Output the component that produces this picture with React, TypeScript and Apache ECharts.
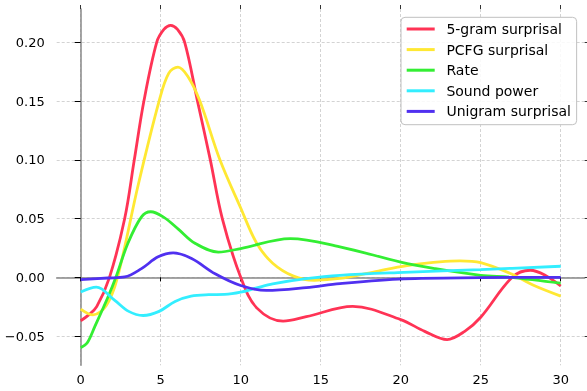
import React, { useEffect, useRef } from 'react';
import * as echarts from 'echarts';

// Key points (x = lag, y = coefficient)
const fiveGramX = [0, 0.5, 1, 1.8, 2.75, 3.35, 3.95, 4.75, 5.2, 5.62, 6.05, 6.5, 7.3, 8.1, 8.85, 10, 11, 12.65, 14.1, 17, 20, 21.5, 22.9, 24, 25, 26.97, 28.1, 29, 30];
const fiveGramY = [-0.037, -0.032, -0.025, 0, 0.05, 0.1, 0.15, 0.2, 0.211, 0.2145, 0.211, 0.2, 0.15, 0.1, 0.05, 0, -0.026, -0.0373, -0.0335, -0.0248, -0.036, -0.046, -0.053, -0.046, -0.034, 0, 0.006, 0.002, -0.0074];

const pcfgX = [0, 0.77, 1.6, 2.3, 3.6, 4.9, 5.5, 6.08, 6.7, 7.45, 8.7, 10, 11, 12, 13.3, 14.6, 16.2, 18.3, 20.4, 23.7, 25, 26.9, 28.3, 30];
const pcfgY = [-0.027, -0.032, -0.024, 0, 0.079, 0.15, 0.1736, 0.179, 0.171, 0.15, 0.1, 0.059, 0.029, 0.012, 0.001, -0.0025, -0.001, 0.0045, 0.01, 0.014, 0.0125, 0.003, -0.0068, -0.016];

const rateX = [0, 0.4, 0.88, 1.7, 2.2, 2.95, 3.8, 4.38, 5.2, 6.1, 7.14, 8.6, 10, 13.1, 16.2, 20, 22.05, 25, 26.9, 30];
const rateY = [-0.06, -0.056, -0.042, -0.017, 0, 0.029, 0.0515, 0.0558, 0.051, 0.041, 0.029, 0.0215, 0.0245, 0.033, 0.026, 0.013, 0.0077, 0.0017, 0, -0.005];

const soundX = [0, 0.98, 2.13, 3, 3.9, 4.9, 5.9, 6.9, 8, 9, 10, 11, 12, 14.1, 16.2, 20.2, 25, 30];
const soundY = [-0.0125, -0.0083, -0.0197, -0.029, -0.0325, -0.029, -0.0205, -0.016, -0.0148, -0.0146, -0.0127, -0.009, -0.0055, -0.0011, 0.0017, 0.0042, 0.0066, 0.0094];

const unigramX = [0, 1.7, 2.75, 3.8, 4.84, 5.78, 6.93, 8.4, 10, 11.6, 14.1, 16.2, 20.2, 25, 30];
const unigramY = [-0.002, -0.0006, 0.0003, 0.0074, 0.0174, 0.0208, 0.016, 0.003, -0.007, -0.0112, -0.0088, -0.0054, -0.0013, -0.0003, 0];

const seriesNames = ['5-gram surprisal', 'PCFG surprisal', 'Rate', 'Sound power', 'Unigram surprisal'];
const seriesXs = [fiveGramX, pcfgX, rateX, soundX, unigramX];
const seriesYs = [fiveGramY, pcfgY, rateY, soundY, unigramY];
const seriesColors = ['#ff3355', '#ffe833', '#33ee33', '#33eeff', '#5030f0'];

const FONT = 'DejaVu Sans';
const gridLine = { color: '#c8c8c8', width: 0.8, type: [3, 2] as any };

export default function App() {
  const ref = useRef<HTMLDivElement>(null);
  useEffect(() => {
    if (!ref.current) return;
    const chart = echarts.init(ref.current, undefined, { renderer: 'svg' });
    const option: any = {
      animation: false,
      textStyle: { fontFamily: FONT },
      grid: [
        { left: 80.7, right: 26.3, top: 9, bottom: 25.7 },
        { left: 56.7, right: 2.3, top: 42.3, bottom: 55 },
      ],
      xAxis: [
        {
          gridIndex: 0, type: 'value', min: 0, max: 30, interval: 5, position: 'bottom',
          axisLine: { show: false },
          axisTick: { show: true, length: 4, lineStyle: { color: '#000', width: 1 } },
          axisLabel: { show: true, margin: 8, fontSize: 13, color: '#000', fontFamily: FONT },
          splitLine: { show: true, lineStyle: gridLine },
        },
        {
          gridIndex: 0, type: 'value', min: 0, max: 30, interval: 5, position: 'top',
          axisLine: { show: false },
          axisTick: { show: true, length: 4, lineStyle: { color: '#333', width: 1 } },
          axisLabel: { show: false },
          splitLine: { show: false },
        },
        {
          gridIndex: 1, type: 'value', min: -1.5, max: 31.5,
          axisLine: { show: true, onZero: true, lineStyle: { color: '#888', width: 1.5 } },
          axisTick: { show: false },
          axisLabel: { show: false },
          splitLine: { show: false },
        },
      ],
      yAxis: [
        {
          gridIndex: 0, type: 'value', min: -0.0749, max: 0.2284, position: 'left',
          axisLine: { show: true, onZero: false, lineStyle: { color: '#888', width: 1.5 } },
          axisTick: { show: false },
          axisLabel: { show: false },
          splitLine: { show: false },
        },
        {
          gridIndex: 1, type: 'value', min: -0.05, max: 0.2, interval: 0.05, position: 'left',
          axisLine: { show: false },
          axisTick: { show: true, length: 6, lineStyle: { color: '#000', width: 1 } },
          axisLabel: {
            show: true, margin: 12, fontSize: 13, color: '#000', fontFamily: FONT,
            formatter: (v: number) => (v < -1e-9 ? '\u2212' : '') + Math.abs(v).toFixed(2),
          },
          splitLine: { show: true, lineStyle: gridLine },
        },
        {
          gridIndex: 1, type: 'value', min: -0.05, max: 0.2, interval: 0.05, position: 'right',
          axisLine: { show: false },
          axisTick: { show: true, length: 4, lineStyle: { color: '#333', width: 1 } },
          axisLabel: { show: false },
          splitLine: { show: false },
        },
      ],
      legend: {
        orient: 'vertical', left: 401, top: 17.3,
        icon: 'rect', itemWidth: 28, itemHeight: 3, itemGap: 6.6,
        padding: [4.7, 5.7, 6.3, 5.7],
        backgroundColor: 'rgba(255,255,255,0.85)',
        borderColor: '#c0c0c0', borderWidth: 1, borderRadius: 4,
        textStyle: { fontSize: 14, lineHeight: 14, fontFamily: FONT, color: '#000', padding: [0, 0, 0, 6.7] },
        data: seriesNames,
      },
      series: seriesNames.map((name, k) => ({
        name, type: 'line', xAxisIndex: 0, yAxisIndex: 0,
        data: seriesXs[k].map((x, i) => [x, seriesYs[k][i]]),
        smooth: 0.35, symbol: 'none', clip: false,
        color: seriesColors[k],
        lineStyle: { width: 2.8, color: seriesColors[k] },
      })),
    };
    chart.setOption(option);
    return () => chart.dispose();
  }, []);
  return <div ref={ref} style={{ position: 'fixed', left: 0, top: 0, width: 587, height: 391 }} />;
}
